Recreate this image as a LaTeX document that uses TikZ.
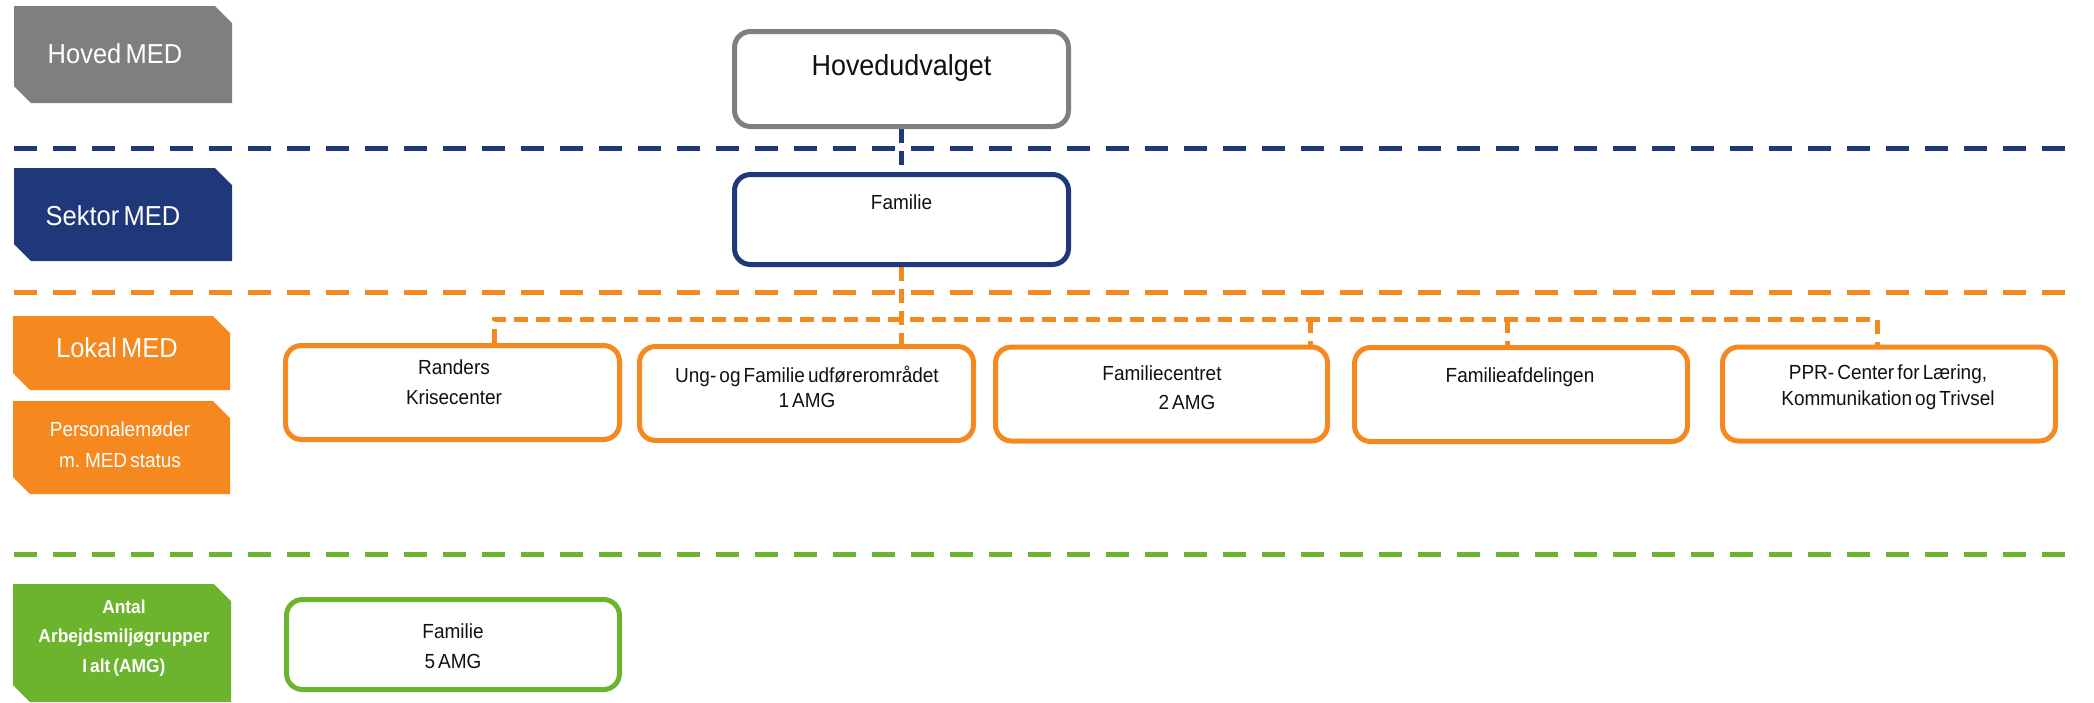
\documentclass[tikz,border=0pt]{standalone}
\usepackage{fontspec}
\setmainfont{Liberation Sans}[WordSpace=0.6, FakeStretch=0.93]
\usetikzlibrary{backgrounds}

\definecolor{medgray}{RGB}{127,127,127}
\definecolor{mednavy}{RGB}{31,56,122}
\definecolor{medorange}{RGB}{245,136,31}
\definecolor{medgreen}{RGB}{109,180,46}
\definecolor{inktext}{RGB}{17,17,17}

% level tab with the top-right and bottom-left corners cut off
\newcommand\leveltab[5]{%
  \fill[#1] (#2,#3) -- ({#4-17},#3) -- (#4,{#3+17}) -- (#4,#5) -- ({#2+17},#5) -- (#2,{#5-17}) -- cycle;}
% centred block of lines: font size, line distance, lines
\newcommand\textblock[3]{{\fontsize{#1}{#2}\selectfont\begin{tabular}[t]{@{}c@{}}#3\end{tabular}}}

\begin{document}
\begin{tikzpicture}[x=1pt,y=-1pt,
  unit/.style={draw, line width=5pt, rounded corners=16pt, fill=white,
    minimum width=334pt, minimum height=94pt, inner sep=0pt},
  inner/.style={inner sep=0pt, anchor=base, text=inktext},
  tabtext/.style={inner sep=0pt, anchor=base, text=white},
  divider/.style={line width=5pt, dash pattern=on 23pt off 16pt},
  link/.style={line width=5pt, dash pattern=on 14pt off 8pt}]
\useasboundingbox (0,0) rectangle (2094,702);

% level tabs on the left
\leveltab{medgray}{14}{6}{232}{103}
\node[tabtext, font=\fontsize{27.4}{32}\selectfont] (t-hoved) at (115,63) {Hoved MED};
\leveltab{mednavy}{14}{168}{232}{261}
\node[tabtext, font=\fontsize{27.4}{32}\selectfont] (t-sektor) at (113,225) {Sektor MED};
\leveltab{medorange}{13}{316}{230}{390}
\node[tabtext, font=\fontsize{27.4}{32}\selectfont] (t-lokal) at (117,357) {Lokal MED};
\leveltab{medorange}{13}{401}{230}{494}
\node[tabtext] (t-personale) at (120,436) {\textblock{20.4}{31}{Personalemøder\\m. MED status}};
\leveltab{medgreen}{13}{584}{231}{702}
\node[tabtext] (t-amg) at (124,613) {\textblock{18.7}{29.5}{\bfseries Antal\\\bfseries Arbejdsmiljøgrupper\\\bfseries I alt (AMG)}};

% dividers between the levels
\draw[divider, mednavy] (14,148) -- (2080,148);
\draw[divider, medorange] (14,292) -- (2080,292);
\draw[divider, medgreen] (14,554) -- (2080,554);

% units
\node[unit, draw=medgray, minimum height=95pt] (hoved) at (901.5,79) {};
\node[inner, font=\fontsize{29}{34}\selectfont] (hoved-t) at (901.5,75) {Hovedudvalget};

\node[unit, draw=mednavy, minimum height=90pt] (sektor) at (901.5,219.5) {};
\node[inner, font=\fontsize{20.4}{25}\selectfont] (sektor-t) at (901.5,209) {Familie};

\node[unit, draw=medorange] (randers) at (452.5,392.5) {};
\node[inner] (randers-t) at (454,374) {\textblock{20.4}{30}{Randers\\Krisecenter}};

\node[unit, draw=medorange] (ung) at (806.5,393.5) {};
\node[inner] (ung-t) at (807,382) {\textblock{20.4}{25}{Ung- og Familie udførerområdet\\1 AMG}};

\node[unit, draw=medorange, minimum width=332pt] (centret) at (1161.5,394) {};
\node[inner] (centret-t) at (1162,380) {\textblock{20.4}{29}{Familiecentret\\\hspace*{50pt}2 AMG}};

\node[unit, draw=medorange, minimum width=333pt] (afd) at (1521,394.5) {};
\node[inner] (afd-t) at (1520,382) {\textblock{20.4}{26}{Familieafdelingen}};

\node[unit, draw=medorange, minimum width=333pt] (ppr) at (1889,394) {};
\node[inner] (ppr-t) at (1888,379) {\textblock{20.4}{26}{PPR- Center for Læring,\\Kommunikation og Trivsel}};

\node[unit, draw=medgreen, minimum width=333pt, minimum height=90pt] (amg) at (453,644.5) {};
\node[inner] (amg-t) at (453,638) {\textblock{20.4}{30}{Familie\\5 AMG}};

% links between the units
\coordinate (rdrop) at (494,319);
\coordinate (pdrop) at (1877,319);
\coordinate (cdrop) at (1310,319);
\coordinate (adrop) at (1507,319);
\begin{scope}[on background layer]
  \draw[link, mednavy] (hoved.south) -- (sektor.north);
  \draw[link, medorange] (sektor.south) -- (sektor.south |- ung.north);
  \draw[link, medorange] (randers.north -| rdrop) -- (rdrop) -- (pdrop) -- (ppr.north -| pdrop);
  \draw[link, medorange] (cdrop) -- (centret.north -| cdrop);
  \draw[link, medorange] (adrop) -- ([yshift=-6pt]afd.north -| adrop);
\end{scope}
\end{tikzpicture}
\end{document}
